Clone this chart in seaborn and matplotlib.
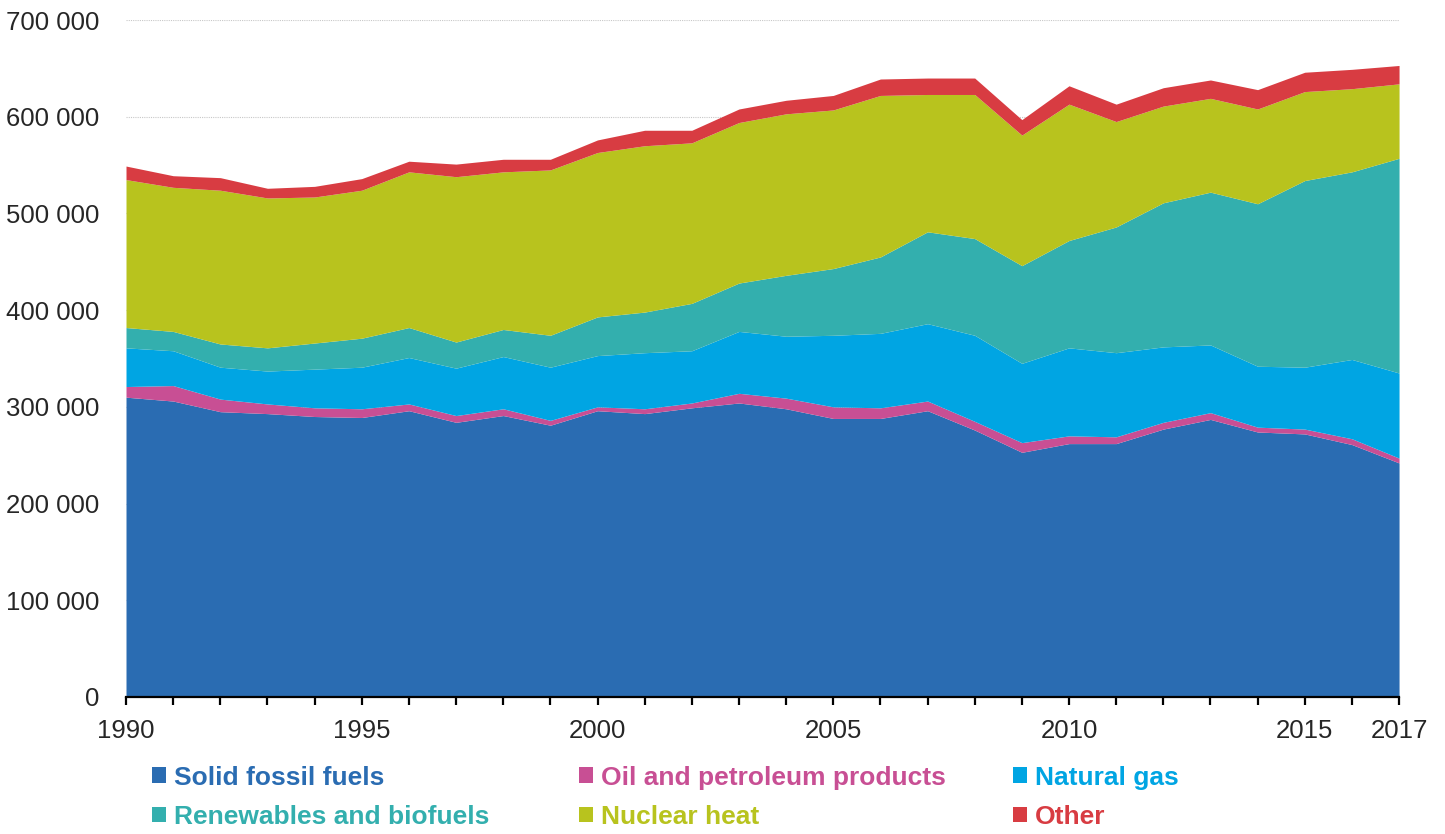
import numpy as np
import pandas as pd
import seaborn as sns
import matplotlib.pyplot as plt
from matplotlib.ticker import FuncFormatter

# --- data (thousand units) ---
years = list(range(1990, 2018))
solid_fossil = [310, 306, 295, 293, 290, 289, 296, 284, 291, 281, 296, 293, 299, 304,
                298, 288, 288, 296, 276, 253, 262, 262, 277, 287, 274, 272, 261, 242]
oil_petroleum = [11, 16, 13, 10, 9, 9, 7, 7, 7, 5, 4, 5, 5, 10,
                 11, 12, 11, 10, 9, 10, 8, 7, 7, 7, 5, 5, 6, 5]
natural_gas = [40, 36, 33, 34, 40, 43, 48, 49, 54, 55, 53, 58, 54, 64,
               64, 74, 77, 80, 89, 82, 91, 87, 78, 70, 63, 64, 82, 88]
renewables = [21, 20, 24, 24, 27, 30, 31, 27, 28, 33, 40, 42, 49, 50,
              63, 69, 79, 95, 100, 101, 111, 130, 149, 158, 168, 193, 194, 222]
nuclear = [153, 149, 159, 155, 151, 153, 161, 171, 163, 171, 170, 172, 166, 166,
           167, 164, 167, 142, 149, 135, 141, 109, 100, 97, 98, 92, 86, 77]
other = [14, 12, 13, 10, 11, 12, 11, 13, 13, 11, 13, 16, 13, 14,
         14, 15, 17, 17, 17, 16, 19, 18, 19, 19, 20, 20, 20, 19]

labels = ['Solid fossil fuels', 'Oil and petroleum products', 'Natural gas',
          'Renewables and biofuels', 'Nuclear heat', 'Other']
colors = ['#2a6cb2', '#c84f94', '#00a5e3', '#33afae', '#b8c31e', '#d83c42']

df = pd.DataFrame({
    'year': years,
    labels[0]: solid_fossil,
    labels[1]: oil_petroleum,
    labels[2]: natural_gas,
    labels[3]: renewables,
    labels[4]: nuclear,
    labels[5]: other,
})
df[labels] = df[labels] * 1000

# --- style ---
sns.set_style("white")
plt.rcParams['font.family'] = ['Liberation Sans', 'DejaVu Sans']

fig = plt.figure(figsize=(14.45, 8.34), dpi=100)
ax = fig.add_axes([0.0872, 0.1643, 0.8810, 0.8117])

polys = ax.stackplot(df['year'], *[df[c] for c in labels], colors=colors,
                     linewidth=0, labels=labels)

ax.set_xlim(1990, 2017)
ax.set_ylim(0, 700000)
ax.set_yticks(np.arange(0, 700001, 100000))
ax.yaxis.set_major_formatter(FuncFormatter(lambda v, p: f"{int(v):,}".replace(",", " ")))
ax.set_xticks(years)
ax.set_xticklabels([str(y) if y in (1990, 1995, 2000, 2005, 2010, 2015, 2017) else ''
                    for y in years])

ax.yaxis.grid(True, color='#c8c8c8', linestyle=(0, (1, 1)), linewidth=0.8)
ax.set_axisbelow(True)
for s in ['top', 'right', 'left']:
    ax.spines[s].set_visible(False)
ax.spines['bottom'].set_color('black')
ax.spines['bottom'].set_linewidth(1.6)
ax.spines['bottom'].set_zorder(5)

ax.tick_params(axis='x', direction='out', length=6, width=1.6, color='black',
               labelsize=18.5, pad=10, bottom=True)
ax.tick_params(axis='y', length=0, labelsize=18.5, pad=19)

# --- legend: three columns, filled row-wise ---
col_x = [0.105, 0.401, 0.701]
for i, x in enumerate(col_x):
    hs = [polys[i], polys[i + 3]]
    ls = [labels[i], labels[i + 3]]
    leg = fig.legend(hs, ls, loc='upper left', bbox_to_anchor=(x, 0.082),
                     frameon=False, ncol=1, borderpad=0, borderaxespad=0,
                     handlelength=0.53, handleheight=0.53, handletextpad=0.3,
                     labelspacing=0.58, prop={'size': 19, 'weight': 'bold'})
    for t, c in zip(leg.get_texts(), [colors[i], colors[i + 3]]):
        t.set_color(c)

plt.savefig('out.png', dpi=100)
